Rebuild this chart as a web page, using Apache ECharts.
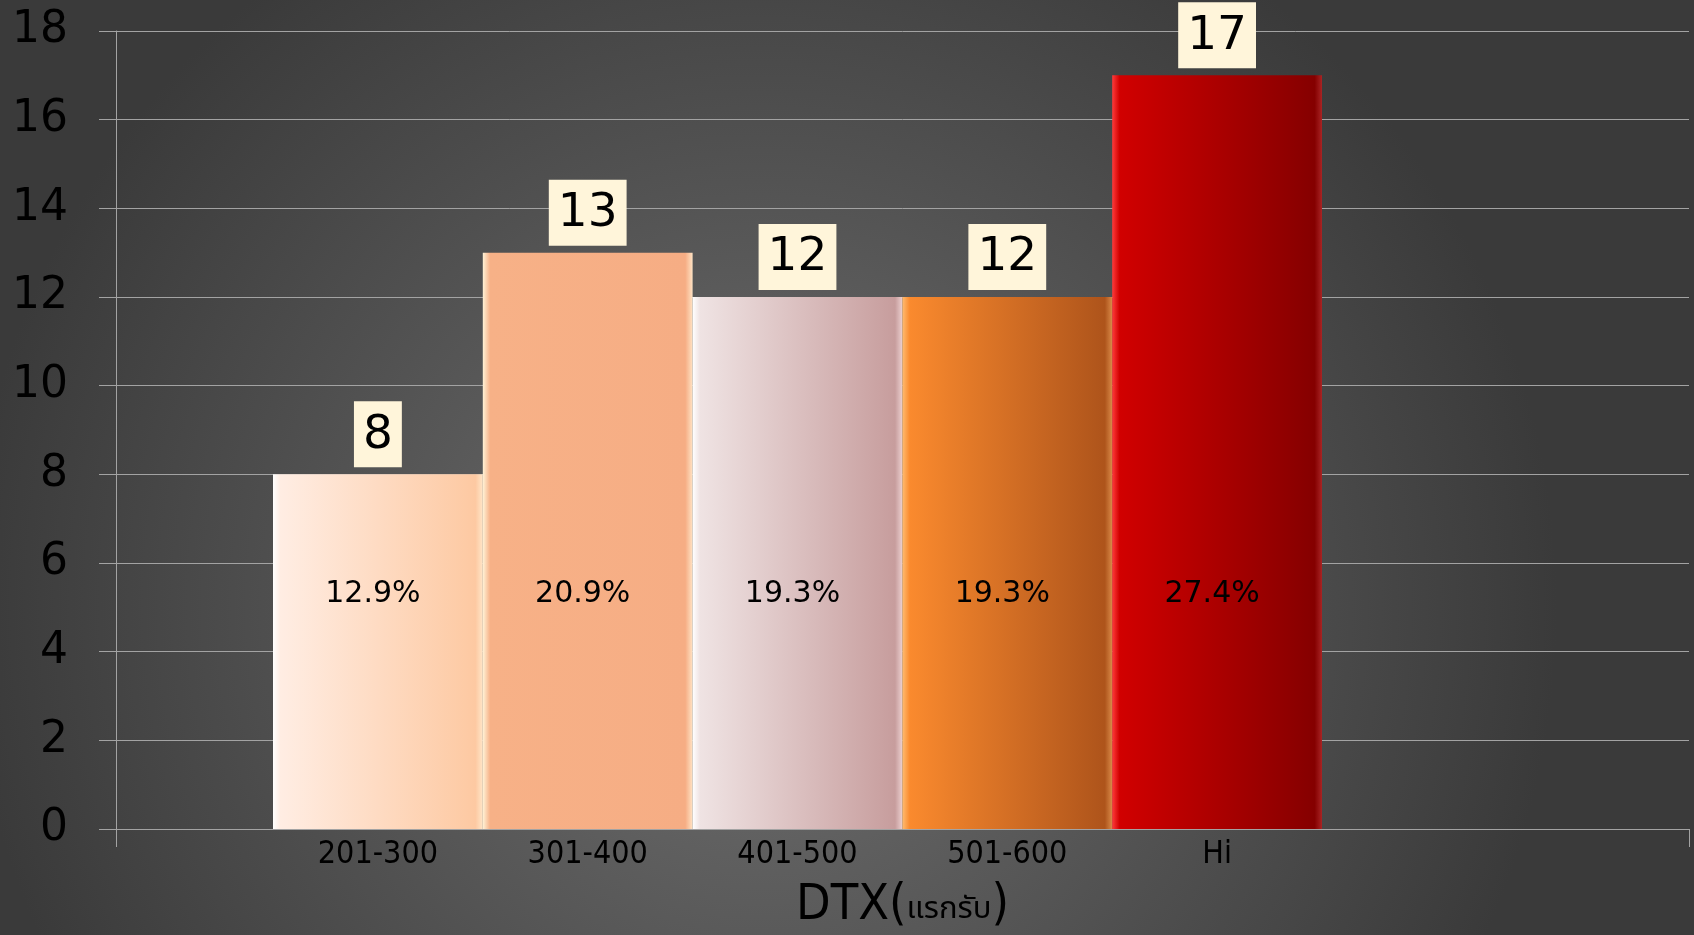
<!DOCTYPE html>
<html>
<head>
<meta charset="utf-8">
<title>DTX</title>
<script src="https://cdn.jsdelivr.net/npm/echarts@6/dist/echarts.min.js"></script>
<style>
	html, body { margin: 0; padding: 0; background: #444; }
	#chart { width: 1694px; height: 935px; }
</style>
</head>
<body>
<div id="chart"></div>
<script>
// ข้อมูล
const categories = ['201-300', '301-400', '401-500', '501-600', 'Hi']
const counts = [8, 13, 12, 12, 17]
const percents = ['12.9%', '20.9%', '19.3%', '19.3%', '27.4%']
const yTicks = { min: 0, max: 18, interval: 2 }

// gradient แต่ละแท่ง (ซ้าย -> ขวา, ขอบมีไฮไลต์)
const barColors = [
	['#ffffff', '#ffede3', '#fdc9a2', '#ffe6c8'],
	['#fff2d6', '#f7b187', '#f6ad84', '#ffe3c4'],
	['#ffffff', '#efe3e3', '#c79d9d', '#ecd0d0'],
	['#ffbb70', '#fa8a2e', '#ae541b', '#d98a48'],
	['#ff3b3b', '#d10000', '#850000', '#a82424']
]

function grad(c) {
	return {
		type: 'linear', x: 0, y: 0, x2: 1, y2: 0,
		colorStops: [
			{ offset: 0, color: c[0] },
			{ offset: 0.035, color: c[1] },
			{ offset: 0.965, color: c[2] },
			{ offset: 1, color: c[3] }
		]
	}
}

const myChart = echarts.init(document.getElementById('chart'))
const lineColor = '#a3a3a3'
const condensed = '"DejaVu Sans Condensed", "Liberation Sans Narrow", sans-serif'

myChart.setOption({
	backgroundColor: {
		type: 'radial', x: 0.45, y: 0.65, r: 0.85,
		colorStops: [
			{ offset: 0, color: '#707070' },
			{ offset: 1, color: '#3a3a3a' }
		]
	},
	animation: false,
	grid: [
		// พื้นที่เส้นกริดทั้งหมด
		{ left: 116, right: 5, top: 31, bottom: 106, outerBoundsMode: 'none', containLabel: false },
		// พื้นที่แท่ง
		{ left: 273, right: 372, top: 31, bottom: 106, outerBoundsMode: 'none', containLabel: false }
	],
	xAxis: [
		{
			gridIndex: 0,
			type: 'category',
			data: [''],
			axisLine: { show: true, lineStyle: { color: lineColor, width: 1 } },
			axisTick: { show: true, length: 18, lineStyle: { color: lineColor } },
			axisLabel: { show: false },
			name: '{a|DTX(}{b|แรกรับ}{a|)}',
			nameLocation: 'middle',
			nameGap: 52,
			nameTextStyle: {
				rich: {
					a: { fontSize: 50, fontFamily: condensed, color: '#000' },
					b: { fontSize: 31, fontFamily: '"Noto Sans Thai", "Noto Sans", sans-serif', color: '#000', padding: [12, 0, 0, 0] }
				}
			}
		},
		{
			gridIndex: 1,
			type: 'category',
			data: categories,
			axisLine: { show: false },
			axisTick: { show: false },
			axisLabel: {
				color: '#000',
				fontSize: 32,
				fontFamily: condensed,
				margin: 10
			}
		}
	],
	yAxis: [
		{
			gridIndex: 0,
			type: 'value',
			min: yTicks.min,
			max: yTicks.max,
			interval: yTicks.interval,
			axisLine: { show: true, lineStyle: { color: lineColor, width: 1 } },
			axisTick: { show: true, length: 17, lineStyle: { color: lineColor } },
			splitLine: { show: true, lineStyle: { color: lineColor, width: 1 } },
			axisLabel: {
				color: '#000',
				fontSize: 44,
				fontFamily: '"DejaVu Sans", Verdana, sans-serif',
				margin: 48,
				padding: [10, 0, 0, 0]
			}
		},
		{
			gridIndex: 1,
			type: 'value',
			min: yTicks.min,
			max: yTicks.max,
			interval: yTicks.interval,
			show: false
		}
	],
	series: [
		{
			name: 'ร้อยละ',
			type: 'bar',
			xAxisIndex: 1,
			yAxisIndex: 1,
			barCategoryGap: 0,
			barGap: '-100%',
			data: counts.map((v, i) => ({
				value: v,
				itemStyle: { color: grad(barColors[i]) }
			})),
			label: {
				show: true,
				position: 'insideBottom',
				distance: 220,
				offset: [-5, 0],
				color: '#000',
				fontSize: 30,
				fontFamily: '"DejaVu Sans", sans-serif',
				formatter: p => percents[p.dataIndex]
			}
		},
		{
			name: 'จำนวน',
			type: 'bar',
			xAxisIndex: 1,
			yAxisIndex: 1,
			barCategoryGap: 0,
			barGap: '-100%',
			data: counts,
			itemStyle: { color: 'rgba(0,0,0,0)' },
			label: {
				show: true,
				position: 'top',
				distance: 7,
				color: '#000',
				fontSize: 47,
				fontFamily: '"DejaVu Sans", sans-serif',
				backgroundColor: '#fff5da',
				lineHeight: 52,
				padding: [8, 9, 6, 9]
			}
		}
	]
})
window.addEventListener('resize', function() {
	myChart.resize()
})
</script>
</body>
</html>
